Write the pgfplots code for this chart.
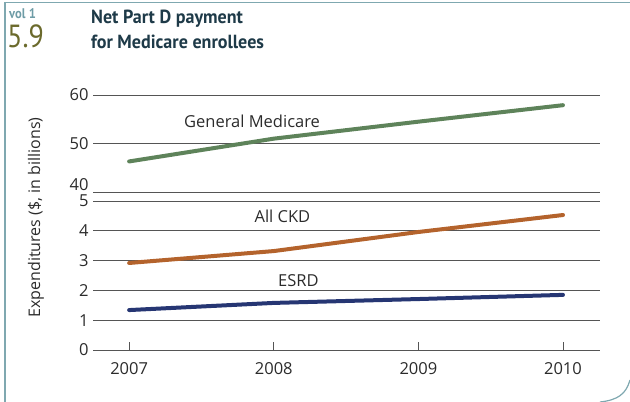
\documentclass[border=0pt]{standalone}
\usepackage{pgfplots}
\pgfplotsset{compat=1.18}
\usepackage{fontspec}
\setmainfont{PT Sans}
\newfontfamily\os{Open Sans}
\definecolor{frame}{HTML}{7FA8B0}
\definecolor{volc}{HTML}{6E9CA6}
\definecolor{numc}{HTML}{6B6A2C}
\definecolor{titlec}{HTML}{1E3A48}
\definecolor{gm}{HTML}{5E835A}
\definecolor{ckd}{HTML}{B4632C}
\definecolor{esrd}{HTML}{263673}
\definecolor{gridc}{HTML}{555555}
\definecolor{txt}{HTML}{2B2B2B}
\begin{document}
\begin{tikzpicture}
% canvas 630x402, tikz y = 402 - py
\begin{scope}[x=1pt,y=1pt]
\path[use as bounding box] (0,0) rectangle (630,402);
\draw[frame,line width=1.2pt] (630,399.5) -- (5,399.5) -- (5,0);
\draw[frame,line width=1.2pt] (630,22) .. controls (626,8) and (618,2) .. (600,0);
% header
\node[anchor=base west,text=volc,font=\fontsize{14}{14}\selectfont\bfseries,inner sep=0pt,xscale=0.9] at (9,383) {vol 1};
\node[anchor=base west,text=numc,font=\fontsize{32}{32}\selectfont,inner sep=0pt,xscale=0.88] at (7,354) {5.9};
\node[anchor=base west,text=titlec,font=\fontsize{19}{19}\selectfont\bfseries,inner sep=0pt,xscale=0.95] at (91,378) {Net Part D payment};
\node[anchor=base west,text=titlec,font=\fontsize{19}{19}\selectfont\bfseries,inner sep=0pt,xscale=0.95] at (91,353) {for Medicare enrollees};
% y label
\node[rotate=90,text=txt,font=\os\fontsize{16}{16}\selectfont,inner sep=0pt] at (36,184.5) {Expenditures (\$, in billions)};
\end{scope}
% bottom axis
\begin{axis}[
  at={(93pt,52pt)}, anchor=south west,
  scale only axis, width=507pt, height=149pt,
  xmin=2006.75, xmax=2010.256, ymin=0, ymax=5,
  axis x line*=bottom, axis y line*=left,
  x axis line style={-,draw=gridc,line width=0.8pt},
  y axis line style={draw=none},
  xtick={2007,2008,2009,2010},
  xticklabels={2007,2008,2009,2010},
  ytick={0,1,2,3,4,5},
  ymajorgrids, grid style={gridc,line width=0.8pt},
  xtick style={draw=gridc,line width=0.8pt},
  ytick style={draw=none},
  tick align=inside, major tick length=8pt,
  tick label style={text=txt,font=\os\fontsize{16.5}{16.5}\selectfont},
  /pgf/number format/assume math mode=true,
  /pgf/number format/1000 sep={},
  xticklabel style={yshift=-9pt},
  yticklabel style={xshift=-1pt},
  clip=false,
]
\addplot[ckd,line width=4pt,line cap=round] coordinates {(2007,2.92) (2008,3.32) (2009,3.96) (2010,4.53)};
\addplot[esrd,line width=4pt,line cap=round] coordinates {(2007,1.34) (2008,1.58) (2009,1.71) (2010,1.85)};
\node[text=txt,font=\os\fontsize{16.5}{16.5}\selectfont] at (axis cs:2008.06,4.5) {All CKD};
\node[text=txt,font=\os\fontsize{16.5}{16.5}\selectfont] at (axis cs:2008.17,2.33) {ESRD};
\end{axis}
% top axis
\begin{axis}[
  at={(93pt,210pt)}, anchor=south west,
  scale only axis, width=507pt, height=97pt,
  xmin=2006.75, xmax=2010.256, ymin=40, ymax=60,
  axis line style={draw=none},
  xtick=\empty,
  ytick={50,60},
  extra y ticks={40},
  extra y tick style={yticklabel style={yshift=7pt}},
  ymajorgrids, grid style={gridc,line width=0.8pt},
  ytick style={draw=none},
  tick label style={text=txt,font=\os\fontsize{16.5}{16.5}\selectfont},
  /pgf/number format/assume math mode=true,
  yticklabel style={xshift=-1pt},
  clip=false,
]
\addplot[gm,line width=4pt,line cap=round] coordinates {(2007,46.3) (2008,51.0) (2009,54.5) (2010,57.9)};
\node[text=txt,font=\os\fontsize{16.5}{16.5}\selectfont] at (axis cs:2007.85,54.6) {General Medicare};
\end{axis}
\end{tikzpicture}
\end{document}
